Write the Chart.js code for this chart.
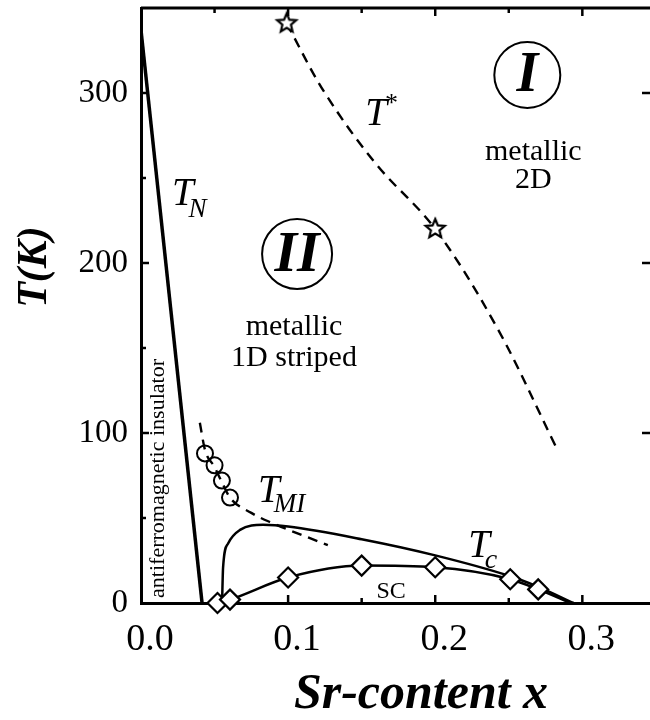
<!DOCTYPE html>
<html>
<head>
<meta charset="utf-8">
<script src="https://cdn.jsdelivr.net/npm/chart.js@4.4.0/dist/chart.umd.min.js"></script>
<style>
  html, body { margin: 0; padding: 0; background: #fff; }
</style>
</head>
<body>
<canvas id="phase" width="650" height="720"></canvas>
<script>
// axis ticks
const X_TICKS = [0, 0.1, 0.2, 0.3];
const X_MINOR = [0.05, 0.15, 0.25];
const Y_TICKS = [0, 100, 200, 300];
const Y_MINOR = [50, 150, 250];

// Neel temperature line
const TN_X = [0, 0.0415];
const TN_T = [337, 0];

// T* crossover (dashed) and its star points
const TSTAR_X = [0.099, 0.125, 0.160, 0.200, 0.242, 0.282];
const TSTAR_T = [341, 300, 258, 220, 162, 92];
const STAR_X = [0.099, 0.200];
const STAR_T = [341, 220];

// metal-insulator line (dashed) and open circles
const TMI_X = [0.040, 0.0435, 0.050, 0.055, 0.0605, 0.075, 0.088, 0.127];
const TMI_T = [106, 90, 80, 71, 62, 53, 47.5, 34];
const CIRCLE_X = [0.0435, 0.050, 0.055, 0.0605];
const CIRCLE_T = [88, 81, 72, 62];

// upper Tc curve
const TC_X = [0.0551, 0.0558, 0.0592, 0.0673, 0.083, 0.10, 0.15, 0.20, 0.25, 0.27, 0.294];
const TC_T = [0, 21, 35, 43, 46, 45, 37.5, 28, 16, 9.5, 0];

// superconducting dome with diamonds (last point has no marker)
const SC_X = [0.052, 0.0605, 0.10, 0.15, 0.20, 0.251, 0.27, 0.292];
const SC_T = [0, 2, 15, 22, 21, 14, 8, 0];

const pts = (xs, ts) => xs.map((v, i) => ({x: v, y: ts[i]}));
const SERIF = "'Liberation Serif', 'Times New Roman', serif";

function makeStar(r) {
    const c = document.createElement('canvas');
    const s = Math.ceil(r * 2 + 6);
    c.width = c.height = s;
    const g = c.getContext('2d');
    g.translate(s / 2, s / 2);
    g.beginPath();
    for (let i = 0; i < 10; i++) {
        const rr = i % 2 ? r * 0.45 : r;
        const a = -Math.PI / 2 + i * Math.PI / 5;
        g.lineTo(rr * Math.cos(a), rr * Math.sin(a));
    }
    g.closePath();
    g.fillStyle = '#fff';
    g.fill();
    g.lineWidth = 2.2;
    g.strokeStyle = '#000';
    g.stroke();
    return c;
}

/* frame line on top + inward ticks on all sides */
const frame = {
    id: 'frame',
    beforeDatasetsDraw(chart) {
        const {ctx, chartArea: a, scales: {x, y}} = chart;
        ctx.save();
        ctx.strokeStyle = '#000';
        ctx.lineWidth = 3;
        ctx.beginPath();
        ctx.moveTo(a.left, a.top);
        ctx.lineTo(a.right, a.top);
        ctx.stroke();

        ctx.lineWidth = 2.5;
        const tick = (x0, y0, x1, y1) => {
            ctx.beginPath(); ctx.moveTo(x0, y0); ctx.lineTo(x1, y1); ctx.stroke();
        };
        X_TICKS.slice(1).forEach(v => {
            const px = x.getPixelForValue(v);
            tick(px, a.bottom, px, a.bottom - 8);
            tick(px, a.top, px, a.top + 8);
        });
        X_MINOR.forEach(v => {
            const px = x.getPixelForValue(v);
            tick(px, a.bottom, px, a.bottom - 5);
            tick(px, a.top, px, a.top + 5);
        });
        Y_TICKS.slice(1).forEach(v => {
            const py = y.getPixelForValue(v);
            tick(a.left, py, a.left + 8, py);
            tick(a.right, py, a.right - 8, py);
        });
        Y_MINOR.forEach(v => {
            const py = y.getPixelForValue(v);
            tick(a.left, py, a.left + 5, py);
        });
        ctx.restore();
    },

    afterDatasetsDraw(chart) {
        const {ctx, scales: {x, y}} = chart;
        const at = (xv, tv) => [x.getPixelForValue(xv), y.getPixelForValue(tv)];
        ctx.save();
        ctx.fillStyle = '#000';
        ctx.strokeStyle = '#000';

        // T with subscript / superscript
        const sym = (xv, tv, sub, subSize, dx, dy, subStyle) => {
            const [px, py] = at(xv, tv);
            ctx.textAlign = 'left';
            ctx.textBaseline = 'alphabetic';
            ctx.font = 'italic 39px ' + SERIF;
            ctx.fillText('T', px, py);
            const w = ctx.measureText('T').width;
            ctx.font = (subStyle || 'italic') + ' ' + subSize + 'px ' + SERIF;
            ctx.fillText(sub, px + w + dx, py + dy);
        };
        sym(0.021, 234, 'N', 27, -5, 12);
        sym(0.1524, 281, '*', 26, -2, -14, 'normal');
        sym(0.0796, 59.4, 'MI', 27, -6, 10);
        sym(0.2224, 27, 'c', 28, -5, 11);

        ctx.textAlign = 'center';
        ctx.font = '24px ' + SERIF;
        let p = at(0.170, 3);
        ctx.fillText('SC', p[0], p[1]);

        ctx.font = '30px ' + SERIF;
        p = at(0.2667, 260.6);
        ctx.fillText('metallic', p[0], p[1]);
        p = at(0.2667, 244);
        ctx.fillText('2D', p[0], p[1]);
        p = at(0.104, 157.6);
        ctx.fillText('metallic', p[0], p[1]);
        p = at(0.104, 139.4);
        ctx.fillText('1D striped', p[0], p[1]);

        // region markers
        const region = (xv, tv, r, label, size) => {
            const [px, py] = at(xv, tv);
            ctx.lineWidth = 2;
            ctx.beginPath();
            ctx.arc(px, py, r, 0, Math.PI * 2);
            ctx.stroke();
            ctx.font = 'italic bold ' + size + 'px ' + SERIF;
            ctx.textAlign = 'center';
            ctx.textBaseline = 'middle';
            ctx.fillText(label, px, py + 2);
        };
        region(0.2626, 310.6, 33, 'I', 56);
        region(0.1061, 205.3, 35, 'II', 58);

        // rotated region label
        p = at(0.0156, 3);
        ctx.save();
        ctx.translate(p[0], p[1]);
        ctx.rotate(-Math.PI / 2);
        ctx.textAlign = 'left';
        ctx.textBaseline = 'alphabetic';
        ctx.font = '22px ' + SERIF;
        ctx.fillText('antiferromagnetic insulator', 0, 0);
        ctx.restore();
        ctx.restore();
    },

    afterDraw(chart) {
        const {ctx} = chart;
        ctx.save();
        ctx.fillStyle = '#000';
        ctx.font = 'italic bold 50px ' + SERIF;
        ctx.textAlign = 'center';
        ctx.textBaseline = 'alphabetic';
        ctx.fillText('Sr-content x', 421, 708);

        ctx.translate(46, 267);
        ctx.rotate(-Math.PI / 2);
        ctx.font = 'italic bold 42px ' + SERIF;
        ctx.fillText('T(K)', 0, 0);
        ctx.restore();
    }
};

new Chart(document.getElementById('phase'), {
    type: 'scatter',
    data: {
        datasets: [
            {
                data: pts(SC_X, SC_T),
                showLine: true,
                borderColor: '#000',
                borderWidth: 2.5,
                cubicInterpolationMode: 'monotone',
                pointStyle: 'rectRot',
                pointRadius: SC_X.map((v, i) => i === SC_X.length - 1 ? 0 : 10),
                pointBackgroundColor: '#fff',
                pointBorderColor: '#000',
                pointBorderWidth: 2.2,
                clip: false
            },
            {
                data: pts(TC_X, TC_T),
                showLine: true,
                borderColor: '#000',
                borderWidth: 2.5,
                cubicInterpolationMode: 'monotone',
                pointRadius: 0
            },
            {
                data: pts(CIRCLE_X, CIRCLE_T),
                pointStyle: 'circle',
                pointRadius: 8,
                pointBorderWidth: 2,
                pointBorderColor: '#000',
                pointBackgroundColor: 'rgba(0,0,0,0)'
            },
            {
                data: pts(TMI_X, TMI_T),
                showLine: true,
                borderColor: '#000',
                borderWidth: 2.4,
                borderDash: [10, 7],
                cubicInterpolationMode: 'monotone',
                pointRadius: 0
            },
            {
                data: pts(STAR_X, STAR_T),
                pointStyle: makeStar(10),
                pointRadius: 10,
                clip: false
            },
            {
                data: pts(TSTAR_X, TSTAR_T),
                showLine: true,
                borderColor: '#000',
                borderWidth: 2.4,
                borderDash: [10, 7],
                tension: 0.35,
                pointRadius: 0
            },
            {
                data: pts(TN_X, TN_T),
                showLine: true,
                borderColor: '#000',
                borderWidth: 3.5,
                pointRadius: 0
            }
        ]
    },
    options: {
        responsive: false,
        animation: false,
        devicePixelRatio: 1,
        layout: { autoPadding: false, padding: { top: 8, right: 0, left: 0, bottom: 0 } },
        plugins: { legend: { display: false }, tooltip: { enabled: false } },
        scales: {
            x: {
                type: 'linear',
                min: 0,
                max: 0.346,
                afterBuildTicks: s => { s.ticks = X_TICKS.map(v => ({value: v})); },
                afterFit: s => { s.height = 117; s.paddingLeft = 0; s.paddingRight = 0; },
                grid: { display: false, drawTicks: false },
                border: { display: true, width: 3, color: '#000' },
                ticks: {
                    color: '#000',
                    font: { family: SERIF, size: 38 },
                    padding: 14,
                    labelOffset: 9,
                    maxRotation: 0,
                    callback: v => v.toFixed(1)
                }
            },
            y: {
                type: 'linear',
                min: 0,
                max: 350,
                afterBuildTicks: s => { s.ticks = Y_TICKS.map(v => ({value: v})); },
                afterFit: s => { s.width = 141; s.paddingTop = 0; s.paddingBottom = 0; },
                grid: { display: false, drawTicks: false },
                border: { display: true, width: 3, color: '#000' },
                ticks: {
                    color: '#000',
                    font: { family: SERIF, size: 33 },
                    padding: 13,
                    callback: v => String(v)
                }
            }
        }
    },
    plugins: [frame]
});
</script>
</body>
</html>
